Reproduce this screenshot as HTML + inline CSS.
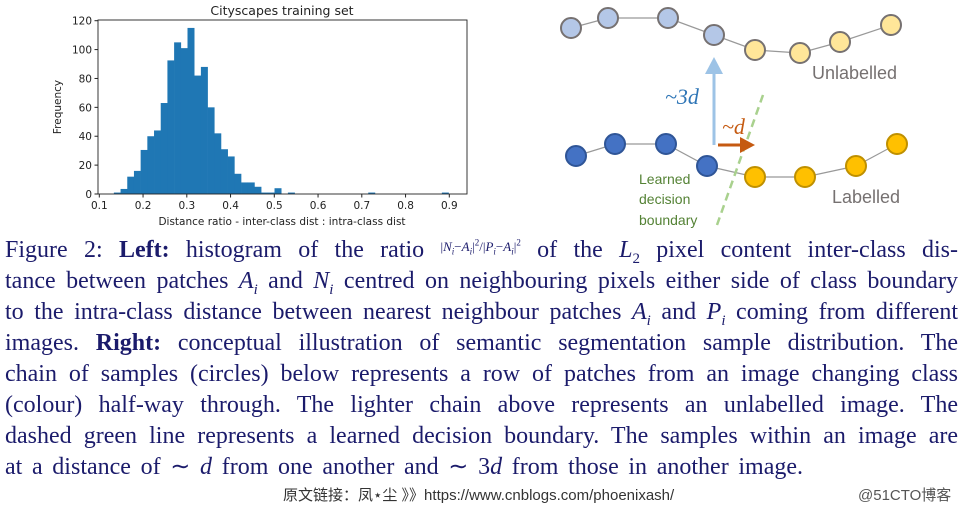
<!DOCTYPE html>
<html><head><meta charset="utf-8">
<style>
body{margin:0;width:964px;height:512px;background:#fff;position:relative;overflow:hidden;font-family:"Liberation Serif",serif}
.cap{position:absolute;left:5px;width:953px;height:24px;font-size:24px;line-height:24px;color:#1b1b6b;text-align:justify;text-align-last:justify;white-space:nowrap}
.cap i{font-style:italic}
.cap sub,.cap sup{font-size:15px;line-height:0}
.frac{font-size:13px;line-height:0;vertical-align:6px}
.frac sub,.frac sup{font-size:9px}
.foot{position:absolute;top:484px;font-family:"Liberation Sans","Noto Sans CJK SC",sans-serif;font-size:15px;color:#333}
svg text{font-family:"DejaVu Sans",sans-serif}
</style></head><body>
<svg id="hist" width="480" height="232" style="position:absolute;left:0;top:0">
<text x="282" y="15" font-size="12.5" text-anchor="middle" fill="#222">Cityscapes training set</text>
<g id="bars"></g><g id="ax"></g>
<text x="282" y="225" font-size="10.5" text-anchor="middle" fill="#222">Distance ratio - inter-class dist : intra-class dist</text>
<text transform="translate(61,107) rotate(-90)" font-size="10.5" text-anchor="middle" fill="#222">Frequency</text>
</svg>
<svg width="420" height="232" style="position:absolute;left:544px;top:0" viewBox="544 0 420 232">
<polyline points="571,28 608,18 668,18 714,35 755,50 800,53 840,42 891,25" fill="none" stroke="#999" stroke-width="1.2"/>
<polyline points="576,156 615,144 666,144 707,166 755,177 805,177 856,166 897,144" fill="none" stroke="#999" stroke-width="1.2"/>
<g stroke="#767171" stroke-width="2">
<circle cx="571" cy="28" r="10" fill="#b4c7e7"/>
<circle cx="608" cy="18" r="10" fill="#b4c7e7"/>
<circle cx="668" cy="18" r="10" fill="#b4c7e7"/>
<circle cx="714" cy="35" r="10" fill="#b4c7e7"/>
<circle cx="755" cy="50" r="10" fill="#ffe699"/>
<circle cx="800" cy="53" r="10" fill="#ffe699"/>
<circle cx="840" cy="42" r="10" fill="#ffe699"/>
<circle cx="891" cy="25" r="10" fill="#ffe699"/>
</g>
<g stroke-width="2">
<circle cx="576" cy="156" r="10" fill="#4472c4" stroke="#2f5597"/>
<circle cx="615" cy="144" r="10" fill="#4472c4" stroke="#2f5597"/>
<circle cx="666" cy="144" r="10" fill="#4472c4" stroke="#2f5597"/>
<circle cx="707" cy="166" r="10" fill="#4472c4" stroke="#2f5597"/>
<circle cx="755" cy="177" r="10" fill="#ffc000" stroke="#bf9000"/>
<circle cx="805" cy="177" r="10" fill="#ffc000" stroke="#bf9000"/>
<circle cx="856" cy="166" r="10" fill="#ffc000" stroke="#bf9000"/>
<circle cx="897" cy="144" r="10" fill="#ffc000" stroke="#bf9000"/>
</g>
<line x1="717" y1="225" x2="763" y2="95" stroke="#a9d18e" stroke-width="2.5" stroke-dasharray="8,5"/>
<line x1="714" y1="145" x2="714" y2="72" stroke="#9dc3e6" stroke-width="3"/>
<polygon points="705,74 723,74 714,57" fill="#9dc3e6"/>
<line x1="718" y1="145" x2="742" y2="145" stroke="#c55a11" stroke-width="3"/>
<polygon points="740,137 755,145 740,153" fill="#c55a11"/>
<text x="665" y="104" style="font-family:'Liberation Serif',serif;font-style:italic;font-size:22px" fill="#2e75b6">~3d</text>
<text x="722" y="134" style="font-family:'Liberation Serif',serif;font-style:italic;font-size:22px" fill="#c55a11">~d</text>
<text x="812" y="79" style="font-family:'Liberation Sans',sans-serif;font-size:18px" fill="#767171">Unlabelled</text>
<text x="832" y="203" style="font-family:'Liberation Sans',sans-serif;font-size:18px" fill="#767171">Labelled</text>
<g fill="#548235">
<text x="639" y="184" style="font-family:'Liberation Sans',sans-serif;font-size:14px">Learned</text><text x="639" y="204" style="font-family:'Liberation Sans',sans-serif;font-size:14px">decision</text><text x="639" y="225" style="font-family:'Liberation Sans',sans-serif;font-size:14px">boundary</text></g>
</svg>
<div>
<div class="cap" style="top:238px">Figure 2: <b>Left:</b> histogram of the ratio <span class="frac">|<i>N<sub>i</sub></i>−<i>A<sub>i</sub></i>|<sup>2</sup>/|<i>P<sub>i</sub></i>−<i>A<sub>i</sub></i>|<sup>2</sup></span> of the <i>L</i><sub>2</sub> pixel content inter-class dis-</div>
<div class="cap" style="top:269px">tance between patches <i>A<sub>i</sub></i> and <i>N<sub>i</sub></i> centred on neighbouring pixels either side of class boundary</div>
<div class="cap" style="top:300px">to the intra-class distance between nearest neighbour patches <i>A<sub>i</sub></i> and <i>P<sub>i</sub></i> coming from different</div>
<div class="cap" style="top:331px">images. <b>Right:</b> conceptual illustration of semantic segmentation sample distribution. The</div>
<div class="cap" style="top:362px">chain of samples (circles) below represents a row of patches from an image changing class</div>
<div class="cap" style="top:393px">(colour) half-way through. The lighter chain above represents an unlabelled image. The</div>
<div class="cap" style="top:424px">dashed green line represents a learned decision boundary. The samples within an image are</div>
<div class="cap" style="top:455px;width:798px">at a distance of ∼ <i>d</i> from one another and ∼ 3<i>d</i> from those in another image.</div>
</div>
<div class="foot" style="left:283px">原文链接：凤⋆尘 》》https://www.cnblogs.com/phoenixash/</div>
<div class="foot" style="left:858px;color:#555">@51CTO博客</div>
<script>
const binStart = 0.1333, binWidth = 0.0153;
const counts = [1,3.5,12,16,30.5,40,44,63,92.5,105,101,115,82,88,60,42,31,26,14,8,8,5,1,1,4,0,1,0,0,0,0,0,0,0,0,0,0,0,1,0,0,0,0,0,0,0,0,0,0,1];
const xTicks = [0.1,0.2,0.3,0.4,0.5,0.6,0.7,0.8,0.9];
const yTicks = [0,20,40,60,80,100,120];
const NS="http://www.w3.org/2000/svg";
const X0=98,X1=467,Y0=194,Y1=20;
const xs=v=>99.3+(v-0.1)*437.5;
const ys=v=>Y0-v*(173.3/120);
const bars=document.getElementById('bars'), ax=document.getElementById('ax');
counts.forEach((c,i)=>{if(!c)return;
 const r=document.createElementNS(NS,'rect');
 const a=xs(binStart+i*binWidth), b=xs(binStart+(i+1)*binWidth);
 r.setAttribute('x',a);r.setAttribute('width',b-a+0.3);r.setAttribute('y',ys(c));r.setAttribute('height',Y0-ys(c));r.setAttribute('fill','#1f77b4');
 
 
 bars.appendChild(r);});
const fr=document.createElementNS(NS,'rect');
fr.setAttribute('x',X0);fr.setAttribute('y',Y1);fr.setAttribute('width',X1-X0);fr.setAttribute('height',Y0-Y1);fr.setAttribute('fill','none');fr.setAttribute('stroke','#222');fr.setAttribute('stroke-width','0.9');


ax.appendChild(fr);
xTicks.forEach(t=>{const x=xs(t);
 const l=document.createElementNS(NS,'line');l.setAttribute('x1',x);l.setAttribute('x2',x);l.setAttribute('y1',Y0);l.setAttribute('y2',Y0+3.5);l.setAttribute('stroke','#222');ax.appendChild(l);
 const tx=document.createElementNS(NS,'text');tx.setAttribute('x',x);tx.setAttribute('y',Y0+15);tx.setAttribute('font-size','10.5');tx.setAttribute('text-anchor','middle');tx.setAttribute('fill','#222');tx.textContent=t;
 
 
 ax.appendChild(tx);});
yTicks.forEach(t=>{const y=ys(t);
 const l=document.createElementNS(NS,'line');l.setAttribute('x1',X0-3.5);l.setAttribute('x2',X0);l.setAttribute('y1',y);l.setAttribute('y2',y);l.setAttribute('stroke','#222');ax.appendChild(l);
 const tx=document.createElementNS(NS,'text');tx.setAttribute('x',X0-6);tx.setAttribute('y',y+4);tx.setAttribute('font-size','10.5');tx.setAttribute('text-anchor','end');tx.setAttribute('fill','#222');tx.textContent=t;
 
 
 ax.appendChild(tx);});
</script>
</body></html>
